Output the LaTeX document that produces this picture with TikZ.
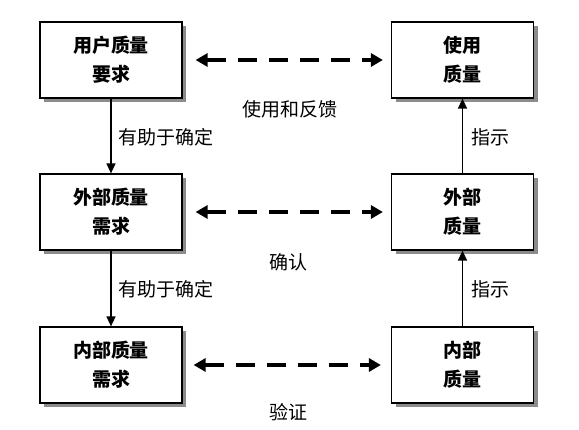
\documentclass[tikz,border=0pt]{standalone}
\usepackage{fontspec}
\setmainfont{Noto Sans CJK SC}
\usetikzlibrary{arrows.meta,shadows}

\begin{document}
\begin{tikzpicture}[x=1pt,y=-1pt,
  kasten/.style={draw,fill=white,line width=1.2pt,minimum width=142pt,minimum height=76pt,
    align=center,font=\fontsize{19}{29}\selectfont\bfseries,
    drop shadow={shadow xshift=4pt,shadow yshift=-4pt,fill=black!45,opacity=1}},
  beschr/.style={font=\fontsize{19}{22}\selectfont,inner sep=1pt},
  pfeil/.style={line width=1.3pt,-{Triangle[length=10pt,width=9pt]}},
  bezug/.style={line width=3.5pt,dash pattern=on 19pt off 12pt,
    {Triangle[length=12pt,width=13pt]}-{Triangle[length=12pt,width=13pt]}}]
\useasboundingbox (0,0) rectangle (579,430);
\node[kasten] (ua) at (111,60) {用户质量\\要求};
\node[kasten] (ea) at (111,212) {外部质量\\需求};
\node[kasten] (ia) at (111,365) {内部质量\\需求};
\node[kasten] (uq) at (462.5,60) {使用\\质量};
\node[kasten] (eq) at (462.5,212) {外部\\质量};
\node[kasten] (iq) at (462.5,365) {内部\\质量};
\draw[pfeil] (ua) -- (ea);
\draw[pfeil] (ea) -- (ia);
\draw[pfeil] (iq) -- (eq);
\draw[pfeil] (eq) -- (uq);
\draw[bezug,shorten <=13pt,shorten >=8pt] (ua) -- (uq);
\draw[bezug,shorten <=13pt,shorten >=8pt] (ea) -- (eq);
\draw[bezug,shorten <=11pt,shorten >=10pt] (ia) -- (iq);
\path (290,109) node[beschr] (l1) {使用和反馈}
      (288,262) node[beschr] (l2) {确认}
      (288,412) node[beschr] (l3) {验证}
      (117,137) node[beschr,anchor=west] (l4) {有助于确定}
      (117,289) node[beschr,anchor=west] (l5) {有助于确定}
      (470,137) node[beschr,anchor=west] (l6) {指示}
      (470,289) node[beschr,anchor=west] (l7) {指示}
      ;
\end{tikzpicture}
\end{document}
